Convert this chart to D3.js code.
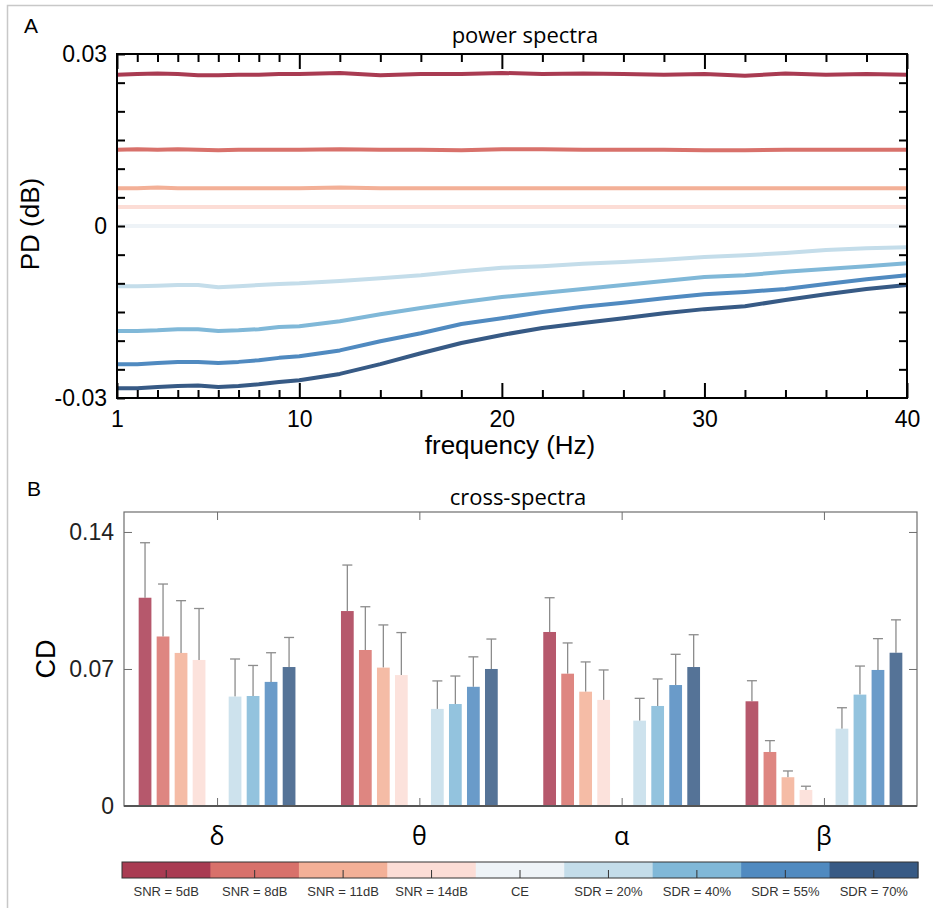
<!DOCTYPE html>
<html>
<head>
<meta charset="utf-8">
<script src="https://cdn.jsdelivr.net/npm/d3@7.9.0/dist/d3.min.js"></script>
<style>
  body { margin: 0; background: #fff; }
  svg { display: block; }
</style>
</head>
<body>
<svg id="chart" width="933" height="908"></svg>
<script>
// ---- data ----
const conditions = ["SNR = 5dB", "SNR = 8dB", "SNR = 11dB", "SNR = 14dB", "CE",
                    "SDR = 20%", "SDR = 40%", "SDR = 55%", "SDR = 70%"];
const colors = ["#a93b52", "#d8716b", "#f3b097", "#fcddd6", "#eef3f7",
                "#c4ddea", "#80b8d8", "#508ac0", "#375a85"];

// panel A: power spectra (PD in dB) per frequency
const freqs = [1, 2, 3, 4, 5, 6, 7, 8, 9, 10, 12, 14, 16, 18, 20, 22, 24, 26, 28, 30, 32, 34, 36, 38, 40];
const psSNR5  = [0.0264, 0.0265, 0.0266, 0.0265, 0.0263, 0.0263, 0.0264, 0.0264, 0.0265, 0.0265, 0.0267, 0.0263, 0.0265, 0.0265, 0.0267, 0.0265, 0.0266, 0.0265, 0.0264, 0.0265, 0.0262, 0.0266, 0.0264, 0.0265, 0.0264];
const psSNR8  = [0.0133, 0.0134, 0.0133, 0.0134, 0.0133, 0.0132, 0.0133, 0.0133, 0.0133, 0.0133, 0.0134, 0.0133, 0.0133, 0.0132, 0.0134, 0.0134, 0.0133, 0.0133, 0.0133, 0.0132, 0.0132, 0.0133, 0.0133, 0.0133, 0.0133];
const psSNR11 = [0.0066, 0.0066, 0.0067, 0.0066, 0.0066, 0.0066, 0.0066, 0.0066, 0.0066, 0.0066, 0.0067, 0.0066, 0.0066, 0.0066, 0.0066, 0.0066, 0.0066, 0.0066, 0.0066, 0.0066, 0.0066, 0.0066, 0.0066, 0.0066, 0.0066];
const psSNR14 = [0.0033, 0.0033, 0.0033, 0.0033, 0.0033, 0.0033, 0.0033, 0.0033, 0.0033, 0.0033, 0.0033, 0.0033, 0.0033, 0.0033, 0.0033, 0.0033, 0.0033, 0.0033, 0.0033, 0.0033, 0.0033, 0.0033, 0.0033, 0.0033, 0.0033];
const psCE    = [0, 0, 0, 0, 0, 0, 0, 0, 0, 0, 0, 0, 0, 0, 0, 0, 0, 0, 0, 0, 0, 0, 0, 0, 0];
const psSDR20 = [-0.0105, -0.0105, -0.0104, -0.0103, -0.0103, -0.0107, -0.0105, -0.0103, -0.0101, -0.0100, -0.0096, -0.0091, -0.0086, -0.0079, -0.0073, -0.0070, -0.0066, -0.0063, -0.0059, -0.0054, -0.0051, -0.0047, -0.0042, -0.0039, -0.0037];
const psSDR40 = [-0.0183, -0.0183, -0.0182, -0.0180, -0.0180, -0.0183, -0.0182, -0.0180, -0.0176, -0.0175, -0.0166, -0.0154, -0.0143, -0.0133, -0.0124, -0.0117, -0.0110, -0.0103, -0.0096, -0.0089, -0.0086, -0.0080, -0.0075, -0.0070, -0.0065];
const psSDR55 = [-0.0241, -0.0241, -0.0239, -0.0237, -0.0237, -0.0239, -0.0237, -0.0234, -0.0230, -0.0227, -0.0217, -0.0201, -0.0187, -0.0171, -0.0161, -0.0150, -0.0141, -0.0134, -0.0126, -0.0119, -0.0115, -0.0110, -0.0101, -0.0093, -0.0086];
const psSDR70 = [-0.0283, -0.0283, -0.0281, -0.0279, -0.0278, -0.0281, -0.0279, -0.0276, -0.0272, -0.0269, -0.0258, -0.0241, -0.0222, -0.0204, -0.0190, -0.0178, -0.0169, -0.0161, -0.0152, -0.0145, -0.0140, -0.0129, -0.0119, -0.0110, -0.0103];
const spectra = [psSNR5, psSNR8, psSNR11, psSNR14, psCE, psSDR20, psSDR40, psSDR55, psSDR70];

const xTicksA = [1, 10, 20, 30, 40];
const xMinorA = [2, 3, 4, 5, 6, 7, 8, 9, 12, 14, 16, 18, 22, 24, 26, 28, 32, 34, 36, 38];
const yTicksA = [-0.03, 0, 0.03];
const yTickLabelsA = ["-0.03", "0", "0.03"];
const yMinorA = [-0.025, -0.02, -0.015, -0.01, -0.005, 0.005, 0.01, 0.015, 0.02, 0.025];

// panel B: cross-spectra (CD) per band, CE has no bar
const bands = ["δ", "θ", "α", "β"];
const cdDelta = [0.1064, 0.0866, 0.0782, 0.0746, null, 0.0559, 0.0562, 0.0634, 0.0710];
const sdDelta = [0.0281, 0.0268, 0.0267, 0.0263, null, 0.0192, 0.0156, 0.0149, 0.0151];
const cdTheta = [0.0996, 0.0797, 0.0707, 0.0669, null, 0.0496, 0.0521, 0.0609, 0.0700];
const sdTheta = [0.0235, 0.0221, 0.0218, 0.0217, null, 0.0143, 0.0143, 0.0153, 0.0153];
const cdAlpha = [0.0889, 0.0676, 0.0584, 0.0542, null, 0.0436, 0.0511, 0.0618, 0.0710];
const sdAlpha = [0.0175, 0.0157, 0.0152, 0.0153, null, 0.0114, 0.0138, 0.0157, 0.0165];
const cdBeta  = [0.0535, 0.0276, 0.0147, 0.0082, null, 0.0395, 0.0569, 0.0695, 0.0783];
const sdBeta  = [0.0105, 0.0058, 0.0032, 0.0019, null, 0.0107, 0.0146, 0.0160, 0.0168];
const cdMeans = [cdDelta, cdTheta, cdAlpha, cdBeta];
const cdErrs = [sdDelta, sdTheta, sdAlpha, sdBeta];
const yTicksB = [0, 0.07, 0.14];
const yTickLabelsB = ["0", "0.07", "0.14"];

const svg = d3.select("#chart");
const arial = "'Liberation Sans', Arial, sans-serif";
const calibri = "'Open Sans', 'Noto Sans', sans-serif";

// figure frame
svg.append("rect")
  .attr("x", 7.5).attr("y", 5.5).attr("width", 960).attr("height", 960)
  .attr("fill", "none").attr("stroke", "#c8c8c8").attr("stroke-width", 1.5);

// ================= panel A =================
const xA = d3.scaleLinear().domain([1, 40]).range([117, 907]);
const yA = d3.scaleLinear().domain([-0.03, 0.03]).range([398, 54]);

const line = d3.line()
  .x((d, i) => xA(freqs[i]))
  .y(d => yA(d));

svg.append("g")
  .selectAll("path")
  .data(spectra)
  .join("path")
  .attr("d", line)
  .attr("fill", "none")
  .attr("stroke", (d, i) => colors[i])
  .attr("stroke-width", 4)
  .attr("stroke-linejoin", "round");

function styleAxis(g, color, width) {
  g.select(".domain").remove();
  g.selectAll(".tick line").attr("stroke", color).attr("stroke-width", width);
}

// bottom
svg.append("g").attr("transform", "translate(0,398)")
  .call(d3.axisBottom(xA).tickValues(xTicksA).tickSize(-15).tickPadding(13))
  .call(g => styleAxis(g, "#000", 2))
  .call(g => g.selectAll("text").attr("font-family", arial).attr("font-size", 23).attr("fill", "#000"));
svg.append("g").attr("transform", "translate(0,398)")
  .call(d3.axisBottom(xA).tickValues(xMinorA).tickSize(-8).tickFormat(""))
  .call(g => styleAxis(g, "#000", 2));
// top
svg.append("g").attr("transform", "translate(0,54)")
  .call(d3.axisTop(xA).tickValues(xTicksA).tickSize(-15).tickFormat(""))
  .call(g => styleAxis(g, "#000", 2));
svg.append("g").attr("transform", "translate(0,54)")
  .call(d3.axisTop(xA).tickValues(xMinorA).tickSize(-8).tickFormat(""))
  .call(g => styleAxis(g, "#000", 2));
// left
svg.append("g").attr("transform", "translate(117,0)")
  .call(d3.axisLeft(yA).tickValues(yTicksA).tickSize(-8).tickPadding(10)
    .tickFormat((d, i) => yTickLabelsA[i]))
  .call(g => styleAxis(g, "#000", 2))
  .call(g => g.selectAll("text").attr("font-family", arial).attr("font-size", 23).attr("fill", "#000"));
svg.append("g").attr("transform", "translate(117,0)")
  .call(d3.axisLeft(yA).tickValues(yMinorA).tickSize(-8).tickFormat(""))
  .call(g => styleAxis(g, "#000", 2));
// right
svg.append("g").attr("transform", "translate(907,0)")
  .call(d3.axisRight(yA).tickValues(yMinorA.concat([0])).tickSize(-8).tickFormat(""))
  .call(g => styleAxis(g, "#000", 2));

svg.append("rect")
  .attr("x", 117).attr("y", 54).attr("width", 790).attr("height", 344)
  .attr("fill", "none").attr("stroke", "#000").attr("stroke-width", 2);

svg.append("text").attr("x", 24).attr("y", 33).text("A")
  .attr("font-family", arial).attr("font-size", 21);
svg.append("text").attr("x", 525).attr("y", 43).attr("text-anchor", "middle").text("power spectra")
  .attr("font-family", calibri).attr("font-size", 22);
svg.append("text").attr("x", 510).attr("y", 454).attr("text-anchor", "middle").text("frequency (Hz)")
  .attr("font-family", arial).attr("font-size", 26);
svg.append("text").attr("transform", "translate(39,224) rotate(-90)").attr("text-anchor", "middle")
  .text("PD (dB)").attr("font-family", arial).attr("font-size", 26);

// ================= panel B =================
const xB = d3.scaleLinear().domain([0.54, 4.46]).range([124, 917]);
const yB = d3.scaleLinear().domain([0, 0.1502]).range([806, 512]);
const barStep = 0.089;
const barWidth = 0.063;
const axisGrey = "#6e6e6e";

const groups = svg.append("g")
  .selectAll("g")
  .data(bands)
  .join("g");

groups.each(function (band, gi) {
  const g = d3.select(this);
  const rows = cdMeans[gi].map((v, i) => ({ v, e: cdErrs[gi][i], i }))
    .filter(d => d.v !== null);
  const cx = d => xB(gi + 1 + (d.i - 4) * barStep);

  g.selectAll("line.err")
    .data(rows).join("line").attr("class", "err")
    .attr("x1", cx).attr("x2", cx)
    .attr("y1", d => yB(d.v)).attr("y2", d => yB(d.v + d.e))
    .attr("stroke", "#8c8c8c").attr("stroke-width", 1.3);
  g.selectAll("line.cap")
    .data(rows).join("line").attr("class", "cap")
    .attr("x1", d => cx(d) - 5).attr("x2", d => cx(d) + 5)
    .attr("y1", d => yB(d.v + d.e)).attr("y2", d => yB(d.v + d.e))
    .attr("stroke", "#8c8c8c").attr("stroke-width", 1.3);
  g.selectAll("rect")
    .data(rows).join("rect")
    .attr("x", d => cx(d) - (xB(barWidth) - xB(0)) / 2)
    .attr("width", xB(barWidth) - xB(0))
    .attr("y", d => yB(d.v))
    .attr("height", d => yB(0) - yB(d.v))
    .attr("fill", d => colors[d.i])
    .attr("fill-opacity", 0.85);
});

const groupTicks = [1, 2, 3, 4];
svg.append("g").attr("transform", "translate(0,806)")
  .call(d3.axisBottom(xB).tickValues(groupTicks).tickSize(-8).tickFormat(""))
  .call(g => styleAxis(g, axisGrey, 1));
svg.append("g").attr("transform", "translate(0,512)")
  .call(d3.axisTop(xB).tickValues(groupTicks).tickSize(-8).tickFormat(""))
  .call(g => styleAxis(g, axisGrey, 1));
svg.append("g").attr("transform", "translate(124,0)")
  .call(d3.axisLeft(yB).tickValues(yTicksB).tickSize(-8).tickPadding(10)
    .tickFormat((d, i) => yTickLabelsB[i]))
  .call(g => styleAxis(g, axisGrey, 1))
  .call(g => g.selectAll("text").attr("font-family", arial).attr("font-size", 23).attr("fill", "#222"));
svg.append("g").attr("transform", "translate(917,0)")
  .call(d3.axisRight(yB).tickValues(yTicksB).tickSize(-8).tickFormat(""))
  .call(g => styleAxis(g, axisGrey, 1));

svg.append("rect")
  .attr("x", 124).attr("y", 512).attr("width", 793).attr("height", 294)
  .attr("fill", "none").attr("stroke", axisGrey).attr("stroke-width", 1.2);
svg.append("line")
  .attr("x1", 124).attr("x2", 917).attr("y1", yB(0)).attr("y2", yB(0))
  .attr("stroke", "#555").attr("stroke-width", 1.8);

svg.append("g")
  .selectAll("text")
  .data(bands)
  .join("text")
  .attr("x", (d, i) => xB(i + 1))
  .attr("y", 845)
  .attr("text-anchor", "middle")
  .attr("font-family", calibri)
  .attr("font-size", 25)
  .text(d => d);

svg.append("text").attr("x", 27).attr("y", 496).text("B")
  .attr("font-family", arial).attr("font-size", 21);
svg.append("text").attr("x", 518).attr("y", 505).attr("text-anchor", "middle").text("cross-spectra")
  .attr("font-family", calibri).attr("font-size", 22);
svg.append("text").attr("transform", "translate(55,659) rotate(-90)").attr("text-anchor", "middle")
  .text("CD").attr("font-family", arial).attr("font-size", 27);

// ================= colour bar =================
const xC = d3.scaleBand().domain(conditions).range([122, 918]);
const cbar = svg.append("g");
cbar.selectAll("rect")
  .data(conditions)
  .join("rect")
  .attr("x", d => xC(d))
  .attr("y", 862)
  .attr("width", xC.bandwidth() + 0.5)
  .attr("height", 16)
  .attr("fill", (d, i) => colors[i]);
cbar.append("rect")
  .attr("x", 122).attr("y", 862).attr("width", 796).attr("height", 16)
  .attr("fill", "none").attr("stroke", "#333").attr("stroke-width", 1);
svg.append("g").attr("transform", "translate(0,878)")
  .call(d3.axisBottom(xC).tickSize(-8).tickPadding(9))
  .call(g => styleAxis(g, "#333", 1))
  .call(g => g.selectAll("text").attr("font-family", arial).attr("font-size", 13).attr("fill", "#333"));
</script>
</body>
</html>
